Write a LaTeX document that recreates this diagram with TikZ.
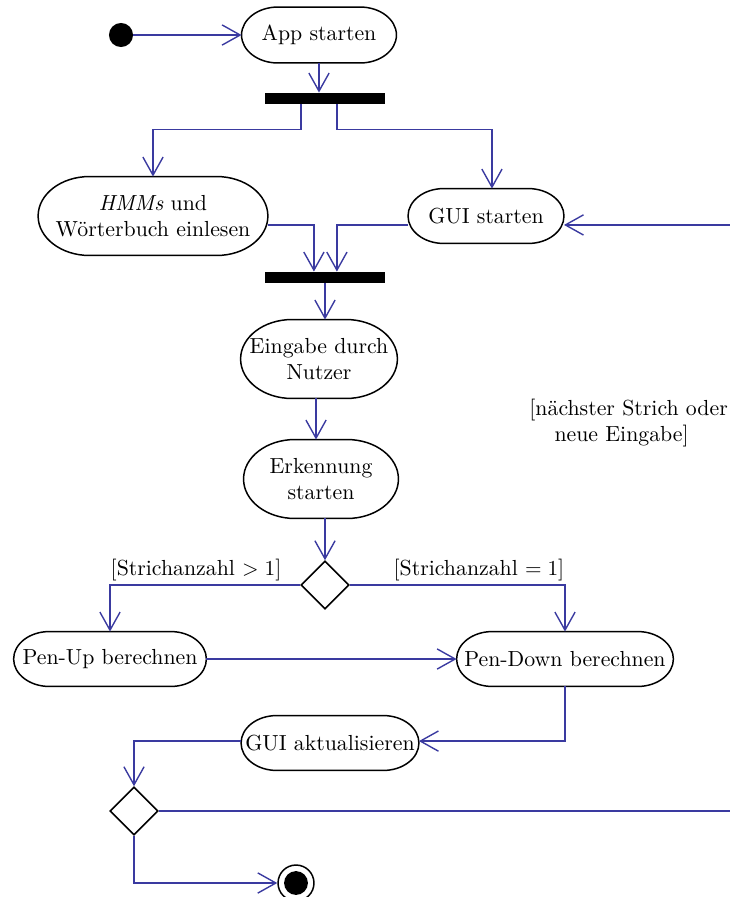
\documentclass[tikz,border=0pt]{standalone}
\usepackage{fontspec}
\usetikzlibrary{shapes.geometric,arrows.meta,calc}
\definecolor{flowblue}{RGB}{58,58,160}
\begin{document}
\begin{tikzpicture}[x=0.47pt,y=-0.47pt,
  every node/.style={font=\fontsize{10.25}{12.3}\selectfont},
  act/.style={rectangle,inner sep=0pt,label={[align=center]center:#1}},
  actline/.style={draw=black,line width=0.7pt},
  forkbar/.style={rectangle,fill=black,inner sep=0pt,
    minimum width=56.4pt,minimum height=5.2pt},
  choice/.style={diamond,draw=black,line width=0.7pt,inner sep=0pt,
    minimum size=22.6pt},
  flow/.style={draw=flowblue,line width=0.65pt,
    -{Straight Barb[length=8.5pt,width=9.5pt]}},
  guard/.style={inner xsep=0pt,inner ysep=1.5pt,text=black}]

% page area
\path[use as bounding box,fill=white] (0,0) rectangle (730,897);

% start / end
\node[circle,fill=black,minimum size=11.3pt,inner sep=0pt] (start) at (121,35) {};
\node[circle,draw=black,line width=0.7pt,minimum size=16.9pt,inner sep=0pt] (finish) at (296,883) {};
\fill (finish.center) circle [radius=5.6pt];

% activities
\node[act={App starten},minimum width=72.4pt,minimum height=25.9pt] (app) at (319,35) {};
\node[forkbar] (fork1) at (325,98.5) {};
\node[act={\emph{HMMs} und\\Wörterbuch einlesen},minimum width=107.6pt,minimum height=36.7pt] (hmm) at (153,216) {};
\node[act={GUI starten},minimum width=72.9pt,minimum height=25.4pt] (guistart) at (486,216) {};
\node[forkbar] (fork2) at (325,277.5) {};
\node[act={Eingabe durch\\Nutzer},minimum width=73.3pt,minimum height=36.7pt] (eingabe) at (319,359) {};
\node[act={Erkennung\\starten},minimum width=72.4pt,minimum height=36.7pt] (erkennung) at (321,479) {};
\node[choice] (dec1) at (325,585) {};
\node[act={Pen-Up berechnen},minimum width=90.2pt,minimum height=25.4pt] (penup) at (110,659) {};
\node[act={Pen-Down berechnen},minimum width=101.5pt,minimum height=25.4pt] (pendown) at (565,659) {};
\node[act={GUI aktualisieren},minimum width=83.2pt,minimum height=25.4pt] (guiakt) at (330,743) {};
\node[choice] (dec2) at (134,811) {};

% outline of each activity: flat top and bottom, elliptic ends
\foreach \act in {app,hmm,guistart,eingabe,erkennung,penup,pendown,guiakt}{
  \draw[actline] let \p1=(\act.north west), \p2=(\act.south east),
      \p3=(\act.center), \n1={(\y1-\y2)/2}, \n2={1.3*\n1} in
    (\x1+\n2,\y1) -- (\x2-\n2,\y1)
    .. controls (\x2-0.448*\n2,\y1) and (\x2,\y3+0.552*\n1) .. (\x2,\y3)
    .. controls (\x2,\y3-0.552*\n1) and (\x2-0.448*\n2,\y2) .. (\x2-\n2,\y2)
    -- (\x1+\n2,\y2)
    .. controls (\x1+0.448*\n2,\y2) and (\x1,\y3-0.552*\n1) .. (\x1,\y3)
    .. controls (\x1,\y3+0.552*\n1) and (\x1+0.448*\n2,\y1) .. cycle;
}

% loop back to the GUI
\coordinate (loop) at (745,811);
\node[guard,anchor=west,align=left] (loopguard) at (529,423)
  {[nächster Strich oder\\\hspace*{11.8pt}neue Eingabe]};

% connectors
\draw[flow] (start) -- (app.west);
\draw[flow] (app.south) -- (app.south |- fork1.north);
\draw[flow] ([xshift=-11.3pt]fork1.south) -- ++(0,25) -| (hmm.north);
\draw[flow] ([xshift=5.6pt]fork1.south) -- ++(0,25) -| ([xshift=2.8pt]guistart.north);
\draw[flow] ([yshift=-4.2pt]hmm.east) -| ([xshift=-5.2pt]fork2.north);
\draw[flow] ([yshift=-4.2pt]guistart.west) -| ([xshift=5.6pt]fork2.north);
\draw[flow] (fork2.south) -- (fork2.south |- eingabe.north);
\draw[flow] ([xshift=-1.4pt]eingabe.south) -- ([xshift=-1.4pt]eingabe.south |- erkennung.north);
\draw[flow] (erkennung.south -| dec1) -- (dec1.north);
\draw[flow] (dec1.west) -| node[guard,pos=0.5,anchor=south west] {[Strichanzahl $> 1$]} (penup.north);
\draw[flow] (dec1.east) -| node[guard,pos=0.5,anchor=south east] {[Strichanzahl $= 1$]} (pendown.north);
\draw[flow] (penup.east) -- (pendown.west);
\draw[flow] (pendown.south) |- ([yshift=0.9pt]guiakt.east);
\draw[flow] ([yshift=0.9pt]guiakt.west) -| (dec2.north);
\draw[flow] (dec2.east) -- (loop) |- ([yshift=-4.2pt]guistart.east);
\draw[flow] (dec2.south) |- (finish.west);
\end{tikzpicture}
\end{document}
